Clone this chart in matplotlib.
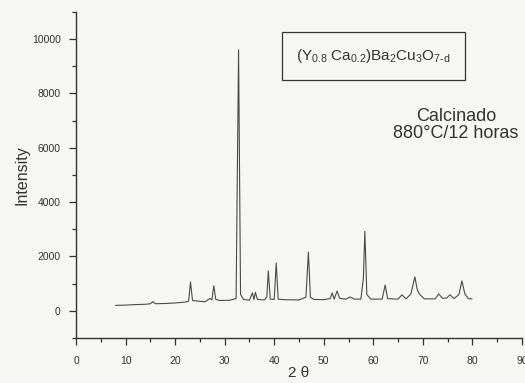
import matplotlib
matplotlib.use("Agg")
import matplotlib.pyplot as plt
from matplotlib.patches import Rectangle

plt.rcParams['font.family'] = ['Liberation Sans', 'DejaVu Sans']
plt.rcParams['mathtext.fontset'] = 'custom'
plt.rcParams['mathtext.rm'] = 'Liberation Sans'
plt.rcParams['mathtext.it'] = 'Liberation Sans'
plt.rcParams['mathtext.default'] = 'rm'

two_theta = [8.0, 10.0, 12.0, 14.0, 15.0, 15.5, 16.0, 18.0, 20.0, 22.0, 22.7, 23.1, 23.5,
             24.5, 26.0, 27.0, 27.4, 27.8, 28.2, 29.0, 31.0, 32.3, 32.8, 33.2, 33.8,
             35.0, 35.6, 35.9, 36.2, 36.6, 38.0, 38.5, 38.8, 39.2, 40.0, 40.4, 40.8,
             42.0, 45.0, 46.4, 46.9, 47.3, 48.0, 50.0, 51.3, 51.7, 52.1, 52.7, 53.2,
             54.5, 55.3, 56.2, 57.5, 58.0, 58.3, 58.7, 59.5, 61.8, 62.4, 62.9, 65.0,
             65.8, 66.6, 67.6, 68.4, 68.9, 69.4, 70.3, 72.5, 73.2, 74.0, 74.8, 75.5,
             76.3, 77.3, 77.9, 78.5, 79.2, 79.9]
intensity = [200, 210, 230, 240, 260, 340, 260, 270, 290, 320, 350, 1060, 380,
             360, 330, 450, 400, 920, 420, 380, 390, 450, 9600, 600, 420,
             390, 660, 410, 680, 420, 400, 500, 1470, 430, 420, 1760, 430,
             410, 400, 500, 2160, 500, 420, 410, 450, 660, 430, 730, 460,
             430, 510, 430, 430, 1200, 2930, 600, 430, 430, 950, 450, 430,
             590, 440, 620, 1250, 760, 600, 440, 440, 620, 460, 470, 590,
             450, 600, 1100, 620, 450, 440]

x_ticks = [0, 10, 20, 30, 40, 50, 60, 70, 80, 90]
y_ticks = [0, 2000, 4000, 6000, 8000, 10000]

bg = '#f6f6f4'
fg = '#333333'
fig = plt.figure(figsize=(5.25, 3.83), dpi=100, facecolor=bg)
ax = fig.add_axes([0.145, 0.1175, 0.849, 0.8515], facecolor=bg)

ax.plot(two_theta, intensity, color='#4a4a4a', lw=0.8)

ax.set_xlim(0, 90)
ax.set_ylim(-1000, 11000)
ax.set_xticks(x_ticks)
ax.set_yticks(y_ticks)
ax.set_xticks(range(5, 90, 10), minor=True)
ax.set_yticks(range(-1000, 11001, 2000), minor=True)
ax.spines['top'].set_visible(False)
ax.spines['right'].set_visible(False)
for s in ('left', 'bottom'):
    ax.spines[s].set_color(fg)
    ax.spines[s].set_linewidth(1.0)
ax.tick_params(which='major', direction='out', length=5, width=0.9, labelsize=7.5,
               colors=fg, pad=8)
ax.tick_params(which='minor', direction='out', length=3, width=0.9, colors=fg)
ax.tick_params(axis='y', pad=6)

ax.set_ylabel('Intensity', fontsize=11.5, color=fg, labelpad=2)
ax.set_xlabel('2 θ', fontsize=11, color=fg, labelpad=0)

ax.add_patch(Rectangle((0.462, 0.791), 0.41, 0.148, transform=ax.transAxes,
                       facecolor='none', edgecolor=fg, lw=0.9, clip_on=False))
ax.text(0.666, 0.865, r'(Y$_{0.8}$ Ca$_{0.2}$)Ba$_2$Cu$_3$O$_{7\text{-}d}$',
        transform=ax.transAxes, ha='center', va='center', fontsize=11,
        color=fg)
ax.text(0.852, 0.653, 'Calcinado\n880°C/12 horas', transform=ax.transAxes,
        ha='center', va='center', fontsize=13, color=fg, linespacing=1.0)

fig.savefig('out.png', dpi=100, facecolor=bg)
